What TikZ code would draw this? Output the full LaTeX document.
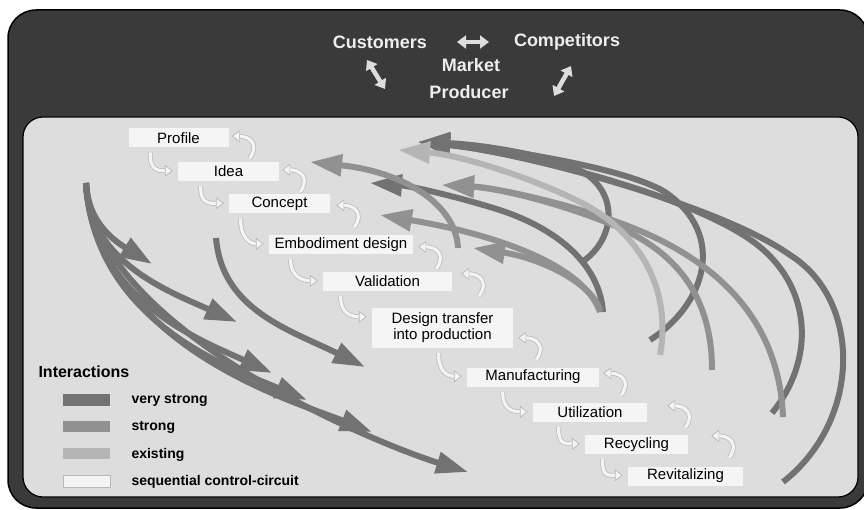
\documentclass[tikz,border=0pt]{standalone}
\usepackage{fontspec}
\setmainfont{Liberation Sans}
\usetikzlibrary{arrows.meta,calc}

\definecolor{framegray}{HTML}{3A3A3A}
\definecolor{panelgray}{HTML}{DDDDDD}
\definecolor{boxfill}{HTML}{F5F5F5}
\definecolor{vstronggray}{HTML}{727272}
\definecolor{stronggray}{HTML}{919191}
\definecolor{existgray}{HTML}{B5B5B5}
\definecolor{seqedge}{HTML}{B8B8B8}
\definecolor{seqfill}{HTML}{F4F4F4}
\definecolor{mktwhite}{HTML}{EEEEEE}

\tikzset{
  stepbox/.style={fill=boxfill, inner sep=0pt, minimum height=19pt,
    font=\fontsize{15}{16}\selectfont},
  mkttext/.style={text=mktwhite, font=\bfseries\fontsize{18}{20}\selectfont},
  mktarrow/.style={draw=mktwhite!85!gray, line width=4.5pt,
    {Triangle[length=9pt,width=13pt]}-{Triangle[length=9pt,width=13pt]}},
  intvstrong/.style={draw=vstronggray, line width=6pt, -{Triangle[length=32pt,width=21pt]}},
  intstrong/.style={draw=stronggray, line width=6pt, -{Triangle[length=32pt,width=21pt]}},
  intexist/.style={draw=existgray, line width=6pt, -{Triangle[length=32pt,width=21pt]}},
  seqarrow/.style={draw=seqedge, line width=0.7pt, double=seqfill, double distance=3.2pt,
    -{Triangle[open,length=8pt,width=12pt,fill=seqfill]}},
  lgdtext/.style={anchor=west, font=\bfseries\fontsize{14}{16}\selectfont}
}

\begin{document}
\begin{tikzpicture}[x=1pt,y=-1pt]
  \useasboundingbox (0,0) rectangle (864,510);
  \draw[fill=framegray, line width=1.5pt, rounded corners=28pt] (8,10) rectangle (868,508);
  \draw[fill=panelgray, line width=1.2pt, rounded corners=20pt] (23,117) rectangle (858,497);

  \node[mkttext] (customers) at (380,42) {Customers};
  \node[mkttext] (competitors) at (567,42) {Competitors};
  \node[mkttext] (market) at (471,65) {Market};
  \node[mkttext] (producer) at (469,92) {Producer};
  \draw[mktarrow] ($(customers)+(77,0)$) -- ($(competitors)+(-78,0)$);
  \draw[mktarrow] ($(customers)+(-13,18)$) -- ($(producer)+(-84,-3)$);
  \draw[mktarrow] ($(competitors)+(4,24)$) -- ($(producer)+(85,4)$);

  \node[stepbox, minimum width=100pt] (profile) at (178.5,138) {Profile};
  \node[stepbox, minimum width=101pt] (idea) at (228.5,171.5) {Idea};
  \node[stepbox, minimum width=101pt] (concept) at (279.5,204) {Concept};
  \node[stepbox, minimum width=144pt] (embodiment) at (341,244.5) {Embodiment design};
  \node[stepbox, minimum width=129pt] (validation) at (387.5,281.5) {Validation};
  \node[stepbox, minimum width=141pt, minimum height=40pt, align=center] (design) at (442.5,328) {Design transfer\\into production};
  \node[stepbox, minimum width=132pt] (manufacturing) at (533,377) {Manufacturing};
  \node[stepbox, minimum width=114pt] (utilization) at (590,412.5) {Utilization};
  \node[stepbox, minimum width=103pt] (recycling) at (636.5,444.5) {Recycling};
  \node[stepbox, minimum width=115pt] (revitalizing) at (685.5,476) {Revitalizing};

  \foreach \a/\b/\dx in {profile/idea/22, idea/concept/23, concept/embodiment/12,
    embodiment/validation/22, validation/design/18, design/manufacturing/67,
    manufacturing/utilization/36, utilization/recycling/26, recycling/revitalizing/18}
    \draw[seqarrow] ($(\a.south west)+(\dx,5)$) .. controls +(-1,18) and +(-14,0) .. ($(\b.north west)+(-5,9)$);
  \foreach \a/\dx/\dy in {profile/3/8, idea/3/8, concept/6/11, embodiment/5/12, validation/9/2,
    design/5/30, manufacturing/4/6, utilization/20/3, recycling/23/1}
    \draw[seqarrow] ($(\a.north east)+(\dx+18,\dy+22)$) .. controls +(10,-14) and +(18,0) .. ($(\a.north east)+(\dx,\dy)$);

  \coordinate (lsrc) at (86,183);
  \coordinate (msrc) at (216,238);
  \foreach \ax/\ay/\bx/\by/\tx/\ty in {88/225/118/243/152/264, 88/262/170/292/237/322,
    92/300/200/340/272/373, 95/322/230/368/307/400, 100/345/290/400/372/432,
    95/330/380/445/468/472}
    \draw[intvstrong] (lsrc) .. controls (\ax,\ay) and (\bx,\by) .. (\tx,\ty);
  \draw[intvstrong] (msrc) .. controls (222,310) and (290,330) .. (365,367);

  \draw[intvstrong] (582,262) .. controls (618,238) and (622,182) .. (565,164) .. controls (520,150) and (470,144) .. (418,142);
  \draw[intvstrong] (650,340) .. controls (705,305) and (728,235) .. (665,192) .. controls (620,165) and (480,146) .. (418,142);
  \draw[intvstrong] (772,413) .. controls (815,360) and (812,290) .. (760,247) .. controls (700,197) and (520,152) .. (418,142);
  \draw[intvstrong] (783,482) .. controls (862,420) and (862,300) .. (790,255) .. controls (720,205) and (520,152) .. (418,142);
  \draw[intvstrong] (603,312) .. controls (600,268) and (562,228) .. (490,207) .. controls (450,195) and (410,186) .. (370,183);

  \draw[intstrong] (458,248) .. controls (456,205) and (405,172) .. (310,162);
  \draw[intstrong] (712,370) .. controls (712,300) and (680,255) .. (620,228) .. controls (570,206) and (500,188) .. (442,185);
  \draw[intstrong] (783,417) .. controls (780,340) and (740,280) .. (660,240) .. controls (600,210) and (500,188) .. (442,185);
  \draw[intstrong] (600,312) .. controls (585,268) and (505,236) .. (380,215);
  \draw[intstrong] (600,310) .. controls (592,283) and (540,258) .. (473,248);

  \draw[intexist] (660,355) .. controls (672,290) and (640,232) .. (580,202) .. controls (530,177) and (460,155) .. (398,150);

  \node[anchor=west, font=\bfseries\fontsize{16}{18}\selectfont] (lgdtitle) at (35,372) {Interactions};
  \fill[vstronggray] (63,394) rectangle (110,406);
  \fill[stronggray] (63,421) rectangle (110,432);
  \fill[existgray] (63,448) rectangle (110,459);
  \draw[seqedge, fill=seqfill, line width=0.5pt] (63,475) rectangle (110,487);
  \node[lgdtext] (lgdvs) at (128,400) {very strong};
  \node[lgdtext] (lgds) at (128,427) {strong};
  \node[lgdtext] (lgde) at (128,455) {existing};
  \node[lgdtext] (lgdsq) at (128,482) {sequential control-circuit};
\end{tikzpicture}
\end{document}
